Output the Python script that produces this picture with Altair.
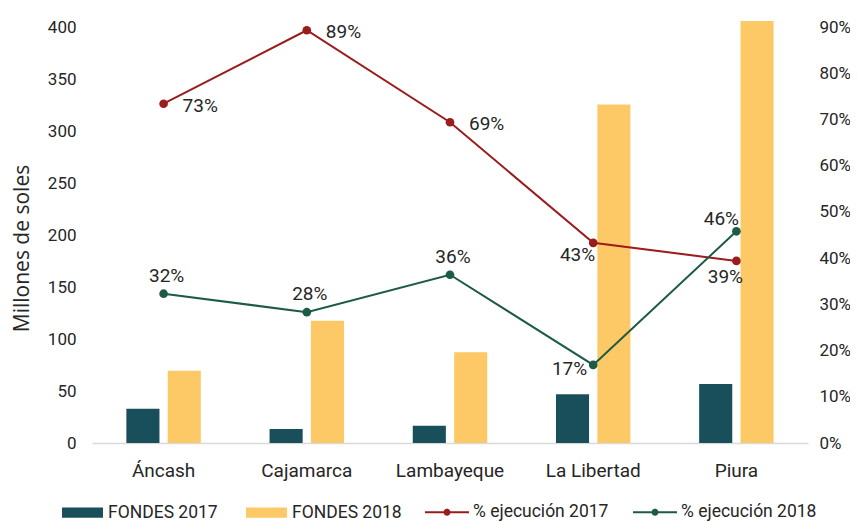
import altair as alt
import pandas as pd

regions = ["Áncash", "Cajamarca", "Lambayeque", "La Libertad", "Piura"]
fondes_2017 = [33.0, 13.5, 16.7, 46.8, 56.7]
fondes_2018 = [69.5, 117.6, 87.2, 325.6, 405.8]
ejec_2017 = [0.734, 0.893, 0.694, 0.433, 0.394]
ejec_2018 = [0.323, 0.283, 0.364, 0.169, 0.458]

bar_series = ["FONDES 2017", "FONDES 2018"]
line_series = ["% ejecución 2017", "% ejecución 2018"]
left_ticks = [0, 50, 100, 150, 200, 250, 300, 350, 400]
right_ticks = [0, 0.1, 0.2, 0.3, 0.4, 0.5, 0.6, 0.7, 0.8, 0.9]

TEAL = "#184F5A"
YELLOW = "#FDC966"
RED = "#9B1C1C"
GREEN = "#1D5B46"
TXT = "#262626"
LINE_COLORS = [RED, GREEN]

bars_df = pd.DataFrame(
    [{"region": r, "serie": bar_series[0], "value": v} for r, v in zip(regions, fondes_2017)]
    + [{"region": r, "serie": bar_series[1], "value": v} for r, v in zip(regions, fondes_2018)]
)
lines_df = pd.DataFrame(
    [{"region": r, "serie": line_series[0], "pct": v} for r, v in zip(regions, ejec_2017)]
    + [{"region": r, "serie": line_series[1], "pct": v} for r, v in zip(regions, ejec_2018)]
)

x_enc = alt.X(
    "region:N",
    sort=regions,
    scale=alt.Scale(paddingInner=0.48, paddingOuter=0.24),
    axis=alt.Axis(
        title=None, labelAngle=0, labelFont="Roboto", labelFontSize=19,
        labelColor=TXT, labelPadding=18, ticks=False, tickSize=0,
        domainColor="#D9D9D9", domainWidth=1.5, grid=False,
    ),
)

bars = alt.Chart(bars_df).mark_bar().encode(
    x=x_enc,
    xOffset=alt.XOffset("serie:N", sort=bar_series,
                        scale=alt.Scale(paddingInner=0.2, paddingOuter=0)),
    y=alt.Y(
        "value:Q",
        scale=alt.Scale(domain=[0, 400], nice=False),
        axis=alt.Axis(
            values=left_ticks, title="Millones de soles", titleFont="Open Sans",
            titleFontSize=21, titleFontWeight="normal", titleColor=TXT,
            titlePadding=15, titleY=221, labelFont="Roboto", labelFontSize=17,
            labelColor=TXT, labelPadding=16, ticks=False, tickSize=0,
            domain=False, grid=False,
        ),
    ),
    color=alt.Color(
        "serie:N",
        scale=alt.Scale(domain=bar_series, range=[TEAL, YELLOW]),
        legend=alt.Legend(
            orient="none", legendX=-30, legendY=465, direction="horizontal",
            title=None, symbolType="M-1,-0.25H1V0.25H-1Z", symbolSize=1681,
            symbolStrokeWidth=0, labelFont="Roboto", labelFontSize=17.5,
            labelColor=TXT, labelOffset=5, columnPadding=28, padding=0,
        ),
    ),
)

y_pct = alt.Y(
    "pct:Q",
    scale=alt.Scale(domain=[0, 0.9], nice=False),
    axis=alt.Axis(
        orient="right", values=right_ticks, format=".0%", title=None,
        labelFont="Roboto", labelFontSize=17, labelColor=TXT, labelPadding=11,
        ticks=False, tickSize=0, domain=False, grid=False,
    ),
)

base = alt.Chart(lines_df)

line_layers = [
    base.mark_line(strokeWidth=2, color=c).encode(x=x_enc, y=y_pct)
    .transform_filter(alt.datum.serie == s)
    for s, c in zip(line_series, LINE_COLORS)
]

line_symbol = ("M-1,-0.045H1V0.045H-1Z "
               "M-0.16,0A0.16,0.16 0 1,1 0.16,0A0.16,0.16 0 1,1 -0.16,0Z")

points = base.mark_circle(size=75, opacity=1).encode(
    x=x_enc, y=y_pct,
    fill=alt.Fill(
        "serie:N",
        scale=alt.Scale(domain=line_series, range=LINE_COLORS),
        legend=alt.Legend(
            orient="none", legendX=333, legendY=463, direction="horizontal",
            title=None, symbolType=line_symbol, symbolSize=1936,
            symbolStrokeWidth=0, labelFont="Roboto", labelFontSize=17.5,
            labelColor=TXT, labelOffset=4, columnPadding=24, padding=0,
        ),
    ),
)


def labels(serie, regs, align, dx, dy):
    return base.mark_text(
        align=align, baseline="middle", dx=dx, dy=dy, font="Roboto",
        fontSize=19, color=TXT,
    ).encode(
        x=x_enc, y=y_pct, text=alt.Text("pct:Q", format=".0%"),
    ).transform_filter(
        alt.datum.serie == serie
    ).transform_filter(
        alt.FieldOneOfPredicate(field="region", oneOf=regs)
    )


texts = [
    labels(line_series[0], ["Áncash", "Cajamarca", "Lambayeque"], "left", 19, 2),
    labels(line_series[0], ["La Libertad"], "right", 2, 12),
    labels(line_series[0], ["Piura"], "center", -11, 16),
    labels(line_series[1], ["Áncash", "Cajamarca", "Lambayeque"], "center", 3, -18),
    labels(line_series[1], ["La Libertad"], "right", -6, 4),
    labels(line_series[1], ["Piura"], "center", -15, -12),
]

right = alt.layer(*line_layers, points, *texts)

chart = alt.layer(bars, right).resolve_scale(y="independent").properties(
    width=716, height=416,
    autosize=alt.AutoSizeParams(type="none"),
    padding={"left": 84, "top": 19, "right": 42, "bottom": 80},
).configure_view(strokeWidth=0)

chart.save("out.html", embed_options={"renderer": "svg", "actions": False})
